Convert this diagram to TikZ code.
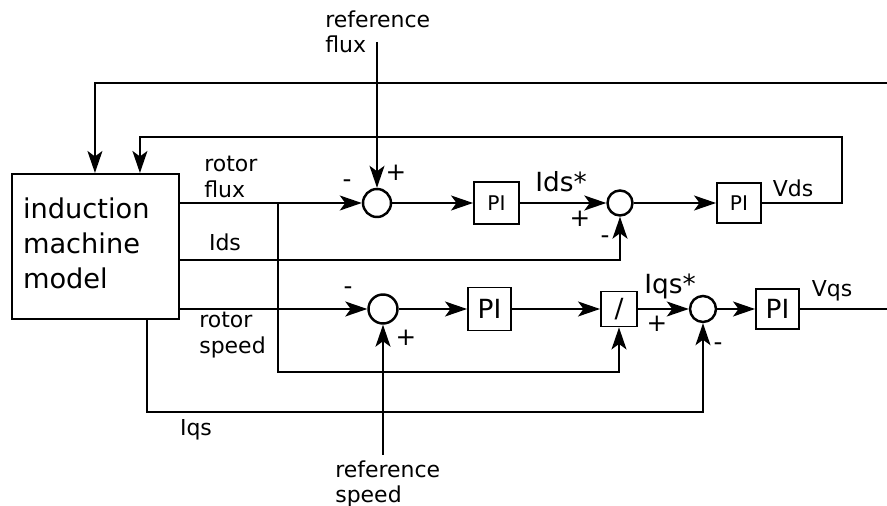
\documentclass[tikz,border=0pt]{standalone}
\usepackage{fontspec}
\setmainfont{DejaVu Sans}
\usetikzlibrary{arrows.meta,positioning,calc}

\begin{document}
\begin{tikzpicture}[
    x=0.02cm, y=-0.02cm,
    block/.style={draw, line width=1.1pt, inner sep=0pt, minimum width=0.88cm, minimum height=0.82cm},
    smallpi/.style={block, font=\fontsize{11.5}{13}\selectfont},
    bigpi/.style={block, font=\fontsize{15}{17}\selectfont},
    sumpoint/.style={draw, circle, line width=1.4pt, inner sep=0pt, minimum size=0.54cm},
    model/.style={draw, line width=1.2pt, text width=2.9cm, inner xsep=0.22cm, minimum height=2.9cm,
                  align=left, font=\fontsize{15.5}{20}\selectfont},
    arrow/.style={-{Stealth[length=0.44cm, width=0.3cm, inset=0.11cm]}, line width=0.95pt},
    wire/.style={line width=0.95pt},
    label/.style={inner sep=0pt, align=left, font=\fontsize{12.5}{14.7}\selectfont},
    biglabel/.style={inner sep=0pt, font=\fontsize{15}{17}\selectfont},
    sign/.style={inner sep=0pt, font=\fontsize{14}{16}\selectfont},
]
    \useasboundingbox (0,0) rectangle (887,506);

    \node[model] (model) at (95.5,246.5) {induction\\machine\\model\rule[-0.14cm]{0pt}{0pt}};
    \node[sumpoint, minimum size=0.56cm] (fluxsum) at (377,203) {};
    \node[smallpi, minimum width=0.9cm, minimum height=0.84cm] (fluxpi) at (496.5,203) {PI};
    \node[sumpoint, minimum size=0.5cm] (idsum) at (620,203) {};
    \node[smallpi, minimum height=0.8cm] (idpi) at (739,203) {PI};
    \node[sumpoint, minimum size=0.58cm] (speedsum) at (383,309) {};
    \node[bigpi, minimum width=0.86cm, minimum height=0.86cm] (speedpi) at (489.5,309) {PI};
    \node[bigpi, minimum width=0.72cm, minimum height=0.7cm] (divide) at (619,309) {/};
    \node[sumpoint, minimum size=0.52cm] (iqsum) at (703,309) {};
    \node[bigpi, minimum width=0.86cm, minimum height=0.8cm] (iqpi) at (777.5,309) {PI};

    \coordinate (fluxref) at (377,42);
    \coordinate (speedref) at (383,455);
    \coordinate (branch) at (278,203);
    \coordinate (vqsout) at (887,309);
    \coordinate (vqsback) at (887,83);

    \draw[arrow] (vqsback) -| ([xshift=1.68cm]model.north west);
    \draw[arrow] (idpi.east) -| (842,137) -| ([xshift=2.58cm]model.north west);
    \draw[arrow] (fluxref) -- (fluxsum);
    \draw[arrow] (model.east |- fluxsum) -- (fluxsum);
    \draw[arrow] (branch) -- ++(0,169) -| (divide.south);
    \draw[arrow] (fluxsum) -- (fluxpi);
    \draw[arrow] (fluxpi) -- (idsum);
    \draw[arrow] ([yshift=-0.27cm]model.east) -| (idsum);
    \draw[arrow] (idsum) -- (idpi);
    \draw[arrow] (model.east |- speedsum) -- (speedsum);
    \draw[arrow] (speedref) -- (speedsum);
    \draw[arrow] (speedsum) -- (speedpi);
    \draw[arrow] (speedpi) -- (divide);
    \draw[arrow] (divide) -- (iqsum);
    \draw[arrow] ([xshift=2.72cm]model.south west) -- ++(0,92) -| (iqsum);
    \draw[arrow] (iqsum) -- (iqpi);
    \draw[wire] (iqpi) -- (vqsout);

    \node[label, anchor=north west] (fluxreflabel) at (325,10) {reference\\flux};
    \node[label, anchor=north west] (rotorflux) at (204,156) {rotor\\flux};
    \node[label] (idslabel) at (225,242) {Ids};
    \node[label, anchor=north west] (rotorspeed) at (199,312) {rotor\\speed};
    \node[label] (iqslabel) at (196,430) {Iqs};
    \node[label, anchor=north west] (speedreflabel) at (335,460) {reference\\speed};
    \node[label] (vdslabel) at (793,188) {Vds};
    \node[label] (vqslabel) at (832,291) {Vqs};
    \node[biglabel] (idsstar) at (561,182) {Ids*};
    \node[biglabel] (iqsstar) at (670,286) {Iqs*};

    \node[sign] (fluxminus) at (347,184) {-};
    \node[sign] (fluxplus) at (396,173) {+};
    \node[sign] (idplus) at (580,219) {+};
    \node[sign] (idminus) at (605,240) {-};
    \node[sign] (speedminus) at (348,291) {-};
    \node[sign] (speedplus) at (406,338) {+};
    \node[sign] (iqplus) at (657,324) {+};
    \node[sign] (iqminus) at (718,347) {-};
\end{tikzpicture}
\end{document}
